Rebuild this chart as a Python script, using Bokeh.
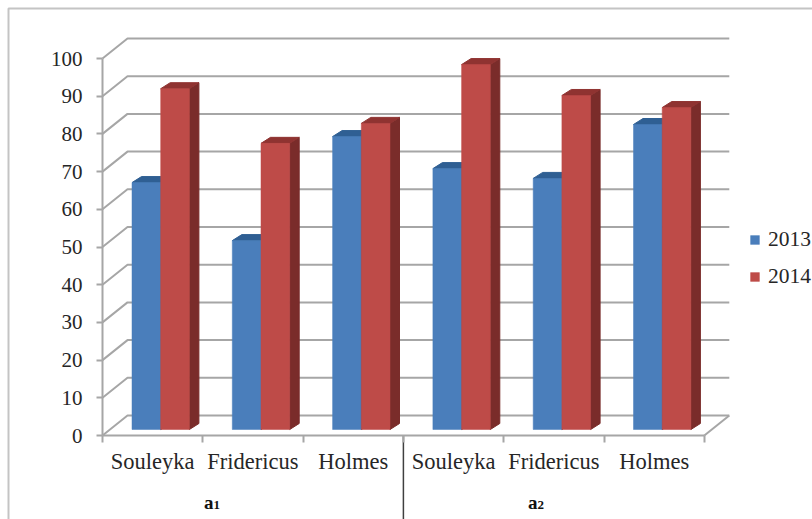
from bokeh.core.properties import value
from bokeh.embed import file_html
from bokeh.resources import INLINE
from bokeh.plotting import figure
from bokeh.models import FixedTicker, Legend, LegendItem, LinearAxis, Range1d

# Chart values
categories = ["Souleyka", "Fridericus", "Holmes", "Souleyka", "Fridericus", "Holmes"]
values_2013 = [65.5, 50.1, 77.7, 69.2, 66.6, 80.9]
values_2014 = [90.4, 75.9, 81.2, 96.8, 88.6, 85.4]
series_names = ["2013", "2014"]
value_ticks = list(range(0, 101, 10))
group_names = ["a", "a"]
group_marks = ["1", "2"]

# Pixel scale of the drawing: data origin sits LEFT from the left edge, BOTTOM above the lower edge
W, H = 812, 519
LEFT, BOTTOM = 102, 84
PX_X = 100.3
PX_Y = 3.77


def ux(px):
    return px / PX_X


def uy(px):
    return px / PX_Y


FONT = "Liberation Serif"
TEXT = "#262626"
GRID = "#a6a6a6"

p = figure(width=W, height=H, output_backend="svg", toolbar_location=None,
           x_range=Range1d(ux(-LEFT), ux(W - LEFT)), y_range=Range1d(uy(-BOTTOM), uy(H - BOTTOM)),
           min_border_left=0, min_border_bottom=0, min_border_right=0, min_border_top=0,
           outline_line_color=None, background_fill_color="white", border_fill_color="white",
           x_axis_location=None, y_axis_location=None)
p.xgrid.visible = False
p.ygrid.visible = False

# Outer chart border, running off the top right and bottom left
p.line([ux(8 - LEFT), ux(8 - LEFT), ux(W - LEFT)],
       [uy(-BOTTOM), uy(H - BOTTOM - 8), uy(H - BOTTOM - 8)],
       line_color="#c4c4c4", line_width=2)

# Walls and floor of the box: diagonal side-wall lines plus back-wall lines
n = len(categories)
wall_dx, wall_dy = ux(25), uy(20)
wall_xs, wall_ys = [], []
for t in value_ticks:
    wall_xs.append([0, wall_dx, n + wall_dx])
    wall_ys.append([t, t + wall_dy, t + wall_dy])
wall_xs.append([n, n + wall_dx])
wall_ys.append([0, wall_dy])
p.multi_line(wall_xs, wall_ys, line_color=GRID, line_width=2)

# Extruded bars: front face, top and side faces
depth_x, depth_y = ux(9.5), uy(6)
base = uy(6)
bar_w = ux(28.7)
start = ux(29.5)


def draw_series(vals, shift, front, top, side):
    lefts = [i + start + shift * bar_w for i in range(n)]
    rights = [x + bar_w for x in lefts]
    tops = [v + base for v in vals]
    side_xs = [[r, r + depth_x, r + depth_x, r] for r in rights]
    side_ys = [[base, base + depth_y, t + depth_y, t] for t in tops]
    top_xs = [[l, l + depth_x, r + depth_x, r] for l, r in zip(lefts, rights)]
    top_ys = [[t, t + depth_y, t + depth_y, t] for t in tops]
    p.patches(side_xs, side_ys, fill_color=side, line_color=side)
    p.patches(top_xs, top_ys, fill_color=top, line_color=top)
    return p.quad(left=lefts, right=rights, bottom=base, top=tops,
                  fill_color=front, line_color=front, line_width=0.5)


blue = draw_series(values_2013, 0, "#4a7ebb", "#2f5f93", "#264d78")
red = draw_series(values_2014, 1, "#be4b48", "#8f3331", "#7a2c2a")

# Value axis
y_axis = LinearAxis(ticker=FixedTicker(ticks=value_ticks), bounds=(0, 100), fixed_location=0)
y_axis.axis_line_color = GRID
y_axis.axis_line_width = 2
y_axis.major_tick_line_color = GRID
y_axis.major_tick_line_width = 2
y_axis.major_tick_out = 6
y_axis.major_tick_in = 0
y_axis.minor_tick_line_color = None
y_axis.major_label_text_font = FONT
y_axis.major_label_text_font_size = "21px"
y_axis.major_label_text_color = TEXT
y_axis.major_label_standoff = 14
p.add_layout(y_axis, "left")

# Category axis: labels centred in each slot, tick marks on the slot edges
centers = [i + 0.5 for i in range(n)]
x_axis = LinearAxis(ticker=FixedTicker(ticks=centers, minor_ticks=list(range(n + 1))),
                    bounds=(0, n), fixed_location=0)
x_axis.major_label_overrides = {c: name for c, name in zip(centers, categories)}
x_axis.axis_line_color = GRID
x_axis.axis_line_width = 2
x_axis.major_tick_line_color = None
x_axis.minor_tick_line_color = GRID
x_axis.minor_tick_line_width = 2
x_axis.minor_tick_out = 7
x_axis.minor_tick_in = 0
x_axis.major_label_text_font = FONT
x_axis.major_label_text_font_size = "22.5px"
x_axis.major_label_text_color = TEXT
x_axis.major_label_standoff = 6
p.add_layout(x_axis, "below")

# Group captions under the axis and the separator between them
cap_x = [ux(213 - LEFT), ux(537 - LEFT)]
p.text(cap_x, [uy(-67)] * 2, text=group_names, text_font=value(FONT), text_font_size="19px",
       text_font_style="bold", text_color="#111111", text_align="right", text_baseline="middle")
p.text(cap_x, [uy(-69)] * 2, text=group_marks, text_font=value(FONT), text_font_size="13px",
       text_font_style="bold", text_color="#111111", text_align="left", text_baseline="middle")
p.line([3, 3], [0, uy(-BOTTOM)], line_color="#404040", line_width=1.5)

# Legend
legend = Legend(items=[LegendItem(label=series_names[0], renderers=[blue]),
                       LegendItem(label=series_names[1], renderers=[red])],
                location=(749, 230), orientation="vertical", border_line_color=None,
                background_fill_alpha=0, glyph_width=11, glyph_height=11,
                label_text_font=FONT, label_text_font_size="21.5px", label_text_color=TEXT,
                spacing=12, padding=0, margin=0, label_standoff=8)
p.add_layout(legend)

open("out.html", "w").write(file_html(p, INLINE))
